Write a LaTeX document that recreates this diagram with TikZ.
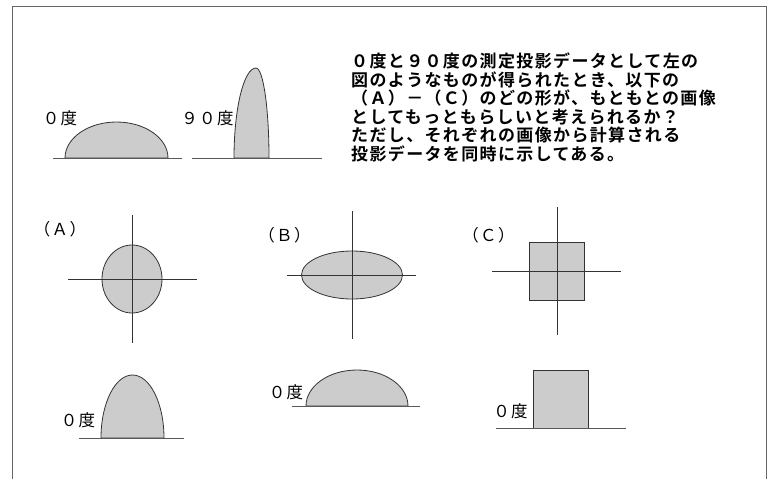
\documentclass[tikz,border=0pt]{standalone}
\usepackage{fontspec}
\newfontfamily\jp[LetterSpace=8]{Noto Sans CJK JP}
\newfontfamily\jpbold[LetterSpace=8,UprightFont=* Bold]{Noto Sans CJK JP}
\definecolor{shade}{RGB}{204,204,204}
\begin{document}
\begin{tikzpicture}[x=1pt,y=-1pt,
  shp/.style={draw=black!80,line width=0.8pt,fill=shade},
  axisline/.style={draw=black!80,line width=0.7pt},
  baseln/.style={draw=black!65,line width=0.8pt},
  lab/.style={font=\jp\fontsize{16.5}{19}\selectfont,anchor=base,inner sep=0pt},
  txt/.style={font=\jpbold\fontsize{17}{19}\selectfont,anchor=base west,inner sep=0pt}]
\useasboundingbox (0,0) rectangle (770,479);
% frame
\draw[black!60,line width=1pt] (12,479) -- (12,6) -- (766,6) -- (766,479);

% measured projections
\draw[shp] (65,158) .. controls (65,138.1) and (88.1,122) .. (116.5,122)
  .. controls (144.9,122) and (168,138.1) .. (168,158) -- cycle;
\draw[baseln] (53,158) -- (182,158);
\node[lab] (m0) at (60,124) {０度};

\draw[shp] (234,158) .. controls (234,108.3) and (243.9,68) .. (256,68)
  .. controls (263.2,68) and (269,108.3) .. (269,158) -- cycle;
\draw[baseln] (192,158) -- (322,158);
\node[lab] (m90) at (207.5,124) {９０度};

% question text
\node[txt] (t1) at (351,67.5) {０度と９０度の測定投影データとして左の};
\node[txt] (t2) at (351,86.1) {図のようなものが得られたとき、以下の};
\node[txt] (t3) at (351,104.7) {（Ａ）－（Ｃ）のどの形が、もともとの画像};
\node[txt] (t4) at (351,123.3) {としてもっともらしいと考えられるか？};
\node[txt] (t5) at (351,141.9) {ただし、それぞれの画像から計算される};
\node[txt] (t6) at (351,160.5) {投影データを同時に示してある。};

% (A)
\node[lab] (la) at (60,235) {（Ａ）};
\draw[shp] (132,279) ellipse [x radius=30, y radius=34];
\draw[axisline] (68,279) -- (197,279);
\draw[axisline] (132,215) -- (132,343);
\draw[shp] (101,438) .. controls (101,403.2) and (115.1,375) .. (132.5,375)
  .. controls (149.9,375) and (164,403.2) .. (164,438) -- cycle;
\draw[baseln] (79,438) -- (184,438);
\node[lab] (pa) at (78,426) {０度};

% (B)
\node[lab] (lb) at (284.5,241) {（Ｂ）};
\draw[shp] (352,275) ellipse [x radius=50.5, y radius=24];
\draw[axisline] (287,275) -- (416,275);
\draw[axisline] (352,211) -- (352,339);
\draw[shp] (306,406) .. controls (306,386.1) and (328.8,370) .. (357,370)
  .. controls (385.2,370) and (408,386.1) .. (408,406) -- cycle;
\draw[baseln] (292,406) -- (420,406);
\node[lab] (pb) at (286,398) {０度};

% (C)
\node[lab] (lc) at (488.5,241) {（Ｃ）};
\draw[shp] (529,242) rectangle (584,300);
\draw[axisline] (492,271) -- (621,271);
\draw[axisline] (557,207) -- (557,335);
\draw[shp] (533,370) rectangle (588,428);
\draw[baseln] (496,428) -- (626,428);
\node[lab] (pc) at (510.5,417) {０度};
\end{tikzpicture}
\end{document}
